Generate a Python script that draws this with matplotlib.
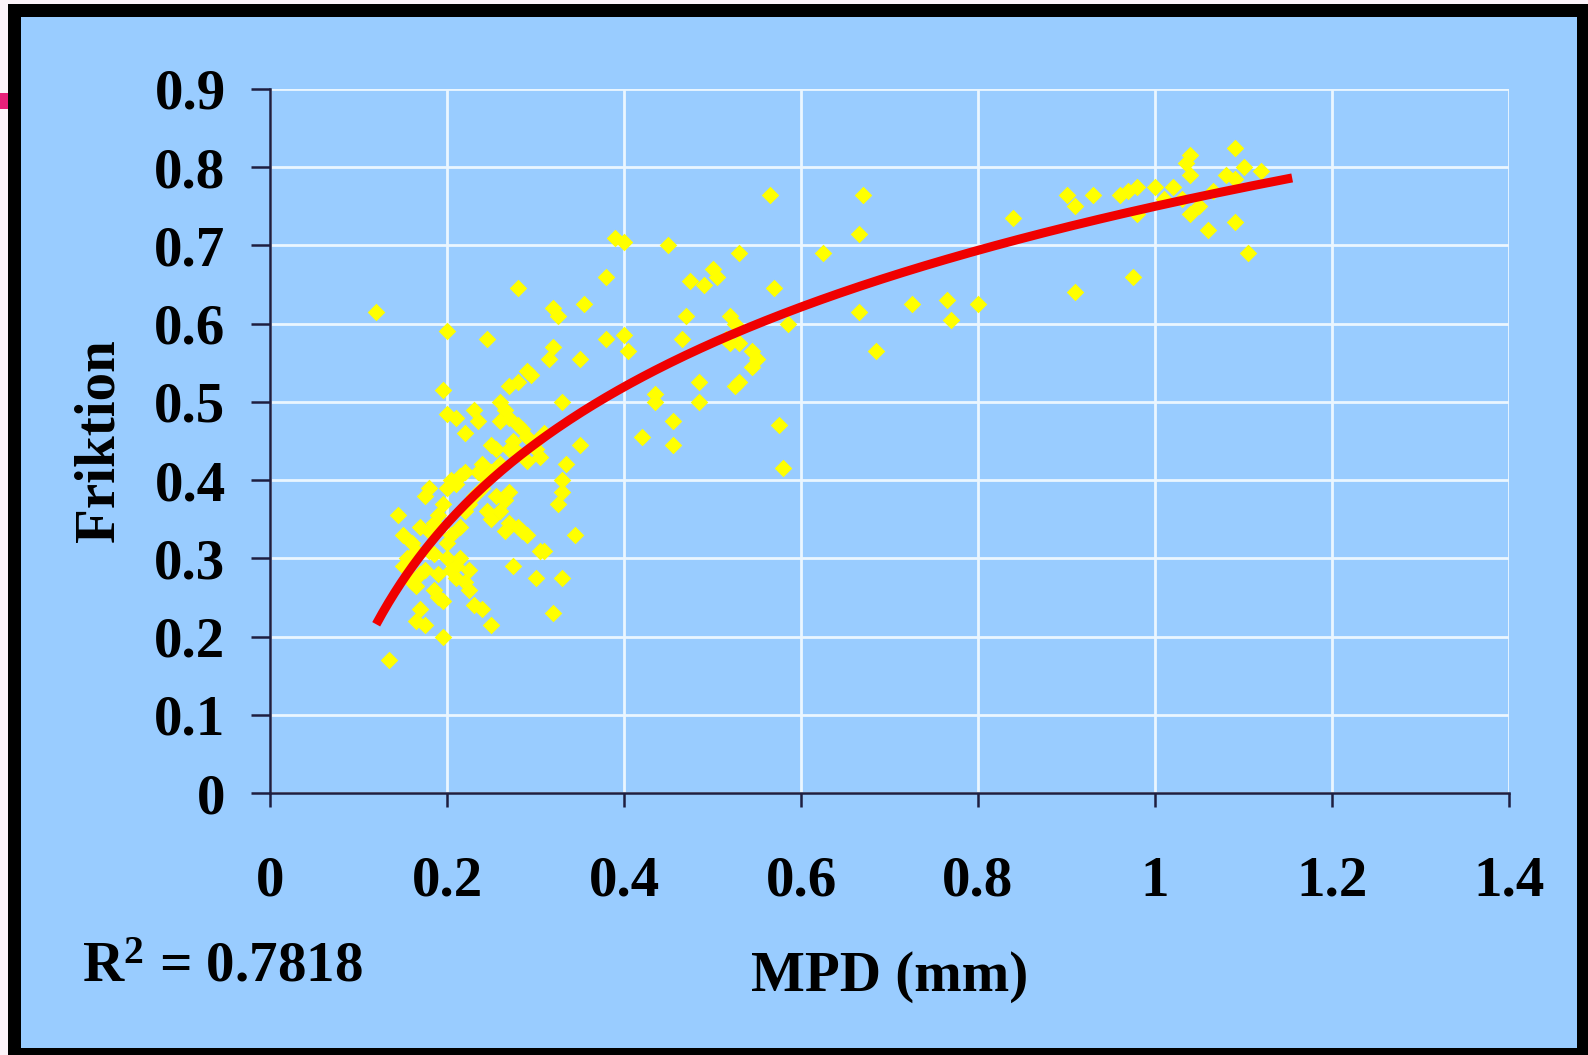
import matplotlib.pyplot as plt
import numpy as np
from matplotlib.patches import Rectangle

# scatter values (MPD in mm, friction coefficient)
mpd = [
    # right cluster
    1.09, 1.04, 1.035, 1.04, 1.065, 1.10, 1.12, 1.08, 1.09, 1.00, 1.02, 0.98,
    0.97, 0.96, 0.93, 0.90, 0.91, 1.01, 1.03, 1.05, 1.04, 0.98, 1.06, 1.09,
    1.105, 0.975, 0.91, 0.84,
    # middle
    0.565, 0.67, 0.665, 0.625, 0.57, 0.585, 0.665, 0.685, 0.725, 0.765, 0.77,
    0.80, 0.575, 0.58, 0.53, 0.50, 0.505, 0.475, 0.49, 0.52, 0.525, 0.515,
    0.53, 0.52, 0.545, 0.55, 0.545, 0.53, 0.525, 0.485, 0.485, 0.465, 0.47,
    0.455, 0.455, 0.42, 0.435, 0.435, 0.45, 0.39, 0.40, 0.38, 0.38, 0.40,
    0.405, 0.355, 0.35, 0.35, 0.345,
    # left, dense part
    0.12, 0.135, 0.32, 0.325, 0.32, 0.315, 0.28, 0.29, 0.295, 0.28, 0.27,
    0.245, 0.20, 0.195, 0.20, 0.21, 0.23, 0.235, 0.22, 0.26, 0.265, 0.27,
    0.26, 0.285, 0.29, 0.30, 0.305, 0.33, 0.335, 0.33, 0.33, 0.325, 0.33,
    0.32, 0.31, 0.30, 0.305, 0.28, 0.285, 0.275, 0.29, 0.27, 0.25, 0.255,
    0.26, 0.25, 0.245, 0.24, 0.25, 0.26, 0.265, 0.27, 0.24, 0.23, 0.225,
    0.25, 0.22, 0.225, 0.21, 0.215, 0.23, 0.22, 0.215, 0.205, 0.21, 0.20,
    0.225, 0.22, 0.215, 0.205, 0.20, 0.195, 0.19, 0.185, 0.18, 0.17, 0.175,
    0.18, 0.16, 0.165, 0.155, 0.15, 0.145, 0.15, 0.16, 0.165, 0.17, 0.175,
    0.19, 0.185, 0.19, 0.195, 0.17, 0.165, 0.175, 0.195, 0.20, 0.205, 0.21,
    0.185, 0.18, 0.24, 0.235, 0.245, 0.255, 0.265, 0.27, 0.28, 0.30, 0.31,
    0.29, 0.275, 0.28,
]
friktion = [
    0.825, 0.815, 0.805, 0.79, 0.77, 0.80, 0.795, 0.79, 0.785, 0.775, 0.775,
    0.775, 0.77, 0.765, 0.765, 0.765, 0.75, 0.76, 0.76, 0.75, 0.74, 0.74,
    0.72, 0.73, 0.69, 0.66, 0.64, 0.735,
    0.765, 0.765, 0.715, 0.69, 0.645, 0.60, 0.615, 0.565, 0.625, 0.63, 0.605,
    0.625, 0.47, 0.415, 0.69, 0.67, 0.66, 0.655, 0.65, 0.61, 0.60, 0.58,
    0.575, 0.575, 0.565, 0.555, 0.545, 0.525, 0.52, 0.525, 0.50, 0.58, 0.61,
    0.445, 0.475, 0.455, 0.51, 0.50, 0.70, 0.71, 0.705, 0.66, 0.58, 0.585,
    0.565, 0.625, 0.555, 0.445, 0.33,
    0.615, 0.17, 0.62, 0.61, 0.57, 0.555, 0.645, 0.54, 0.535, 0.525, 0.52,
    0.58, 0.59, 0.515, 0.485, 0.48, 0.49, 0.475, 0.46, 0.50, 0.49, 0.48,
    0.475, 0.465, 0.455, 0.44, 0.43, 0.50, 0.42, 0.40, 0.385, 0.37, 0.275,
    0.23, 0.31, 0.275, 0.31, 0.34, 0.335, 0.29, 0.33, 0.385, 0.445, 0.44,
    0.42, 0.41, 0.40, 0.39, 0.35, 0.36, 0.335, 0.345, 0.235, 0.24, 0.26,
    0.215, 0.27, 0.285, 0.29, 0.30, 0.38, 0.41, 0.405, 0.40, 0.395, 0.39,
    0.37, 0.36, 0.34, 0.33, 0.32, 0.37, 0.355, 0.345, 0.335, 0.34, 0.38,
    0.39, 0.32, 0.31, 0.30, 0.33, 0.355, 0.29, 0.27, 0.265, 0.28, 0.285,
    0.28, 0.26, 0.25, 0.245, 0.235, 0.22, 0.215, 0.20, 0.30, 0.285, 0.275,
    0.305, 0.31, 0.42, 0.41, 0.36, 0.38, 0.375, 0.44, 0.435, 0.45, 0.46,
    0.425, 0.45, 0.47,
]

# logarithmic trend line: y = a*ln(x) + b
fit_a = 0.252
fit_b = 0.750
fit_start, fit_end = 0.12, 1.155
r_squared = 0.7818

x_ticks = [0, 0.2, 0.4, 0.6, 0.8, 1.0, 1.2, 1.4]
x_labels = ["0", "0.2", "0.4", "0.6", "0.8", "1", "1.2", "1.4"]
y_ticks = [0, 0.1, 0.2, 0.3, 0.4, 0.5, 0.6, 0.7, 0.8, 0.9]
y_labels = ["0", "0.1", "0.2", "0.3", "0.4", "0.5", "0.6", "0.7", "0.8", "0.9"]

W, H = 1588, 1055
bg = "#99CCFF"
dark = "#1E1E40"

plt.rcParams["font.family"] = ["Liberation Serif", "DejaVu Serif"]
plt.rcParams["font.weight"] = "bold"
plt.rcParams["mathtext.fontset"] = "custom"
plt.rcParams["mathtext.rm"] = "Liberation Serif:bold"
plt.rcParams["mathtext.it"] = "Liberation Serif:bold"


def fx(px):
    return px / W


def fy(py):
    return 1 - py / H


fig = plt.figure(figsize=(W / 100, H / 100), dpi=100, facecolor="#FCF3F9")

# black frame with light blue panel, plus the stray pink mark at top left
fig.patches.append(Rectangle((fx(8), 0), 1 - fx(8), fy(4), transform=fig.transFigure,
                             facecolor="black", edgecolor="none", zorder=-3))
fig.patches.append(Rectangle((fx(21), fy(1048)), fx(1577 - 21), (1048 - 17) / H,
                             transform=fig.transFigure, facecolor=bg,
                             edgecolor="none", zorder=-2))
fig.patches.append(Rectangle((0, fy(109)), fx(8), 16 / H, transform=fig.transFigure,
                             facecolor="#E8207A", edgecolor="none", zorder=-1))

ax = fig.add_axes([fx(270), fy(793), fx(1509 - 270), (793 - 89) / H])
ax.set_facecolor(bg)
ax.set_axisbelow(True)

ax.scatter(mpd, friktion, marker="D", s=80, color="#FFFF00", linewidths=0, zorder=2)

xs = np.linspace(fit_start, fit_end, 300)
ax.plot(xs, fit_a * np.log(xs) + fit_b, color="#F00000", lw=6.5,
        solid_capstyle="butt", zorder=3)

ax.set_xlim(0, 1.4)
ax.set_ylim(0, 0.9)
ax.set_xticks(x_ticks, x_labels)
ax.set_yticks(y_ticks, y_labels)
ax.grid(True, color="#EAF6FF", lw=2)

for side in ("top", "right"):
    ax.spines[side].set_visible(False)
for side in ("left", "bottom"):
    ax.spines[side].set_color(dark)
    ax.spines[side].set_linewidth(1.8)

ax.tick_params(axis="both", direction="out", width=1.8, color=dark,
               labelsize=41, labelcolor="black")
ax.tick_params(axis="y", length=14, pad=18)
ax.tick_params(axis="x", length=10, pad=35)
for lab in ax.get_xticklabels() + ax.get_yticklabels():
    lab.set_fontweight("bold")

ax.set_xlabel("MPD (mm)", fontsize=41, fontweight="bold")
ax.xaxis.set_label_coords(0.5, -0.261)
ax.xaxis.label.set_va("center")
ax.set_ylabel("Friktion", fontsize=41, fontweight="bold")
ax.yaxis.set_label_coords(-0.138, 0.501)
ax.yaxis.label.set_va("center")

fig.text(fx(82), fy(982), r"R$^{2}$ = %.4f" % r_squared, fontsize=41,
         fontweight="bold", ha="left", va="baseline")

fig.savefig("out.png", dpi=100, facecolor=fig.get_facecolor())
